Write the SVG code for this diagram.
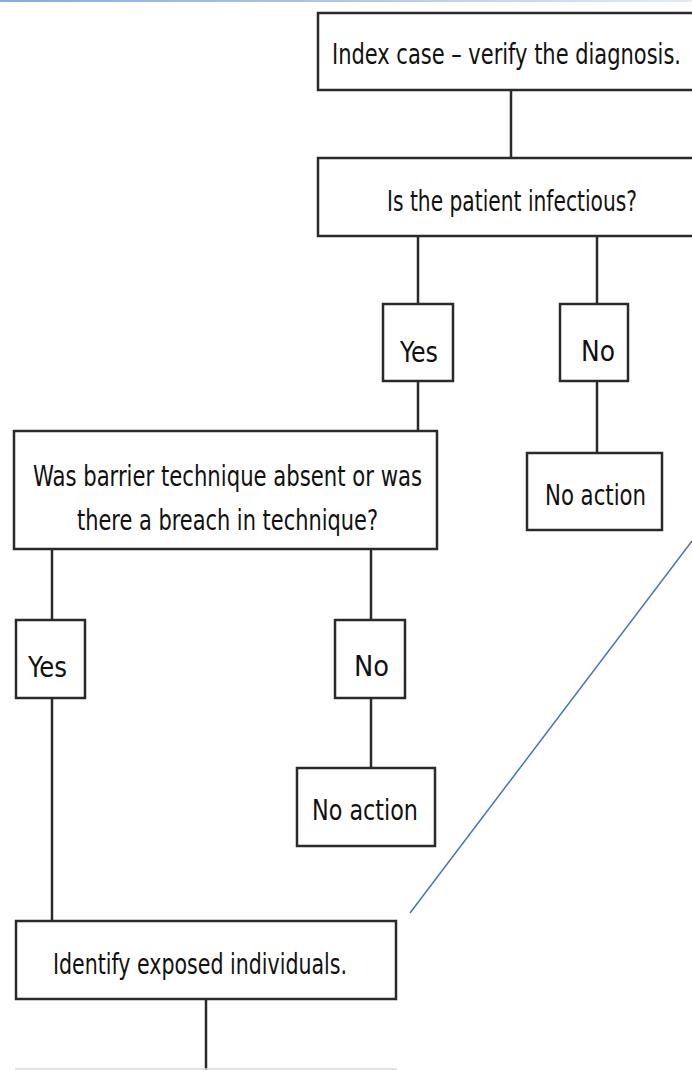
<svg xmlns="http://www.w3.org/2000/svg" width="692" height="1070" viewBox="0 0 692 1070">
  <defs>
    <linearGradient id="topbar" x1="0" y1="0" x2="1" y2="0">
      <stop offset="0" stop-color="#8ea9d9"/>
      <stop offset="0.5" stop-color="#b4c6e7"/>
      <stop offset="1" stop-color="#e4eaf5"/>
    </linearGradient>
    <style>
      .box { fill: #ffffff; stroke: #2a2a2a; stroke-width: 2.5; }
      .conn { stroke: #2a2a2a; stroke-width: 2.5; fill: none; }
      .t { font-family: "Liberation Sans Narrow", "DejaVu Sans Condensed", "Liberation Sans", sans-serif; font-size: 29px; fill: #111111; }
      .ts { font-size: 24px; }
    </style>
  </defs>
  <rect x="0" y="0" width="692" height="1070" fill="#ffffff"/>
  <rect x="0" y="0" width="692" height="2" fill="url(#topbar)"/>

  <g id="connectors">
    <line class="conn" x1="511" y1="90" x2="511" y2="158"/>
    <line class="conn" x1="418" y1="236" x2="418" y2="304"/>
    <line class="conn" x1="597" y1="236" x2="597" y2="304"/>
    <line class="conn" x1="418" y1="381" x2="418" y2="431"/>
    <line class="conn" x1="597" y1="381" x2="597" y2="453"/>
    <line class="conn" x1="52" y1="549" x2="52" y2="620"/>
    <line class="conn" x1="371" y1="549" x2="371" y2="620"/>
    <line class="conn" x1="371" y1="698" x2="371" y2="768"/>
    <line class="conn" x1="52" y1="698" x2="52" y2="921"/>
    <line class="conn" x1="206" y1="999" x2="206" y2="1070"/>
    <line x1="410" y1="913" x2="692" y2="541" stroke="#4a72be" stroke-width="1.5"/>
  </g>

  <g id="index-case">
    <path class="box" d="M692,13 H318 V90 H692"/>
    <text class="t ts" transform="translate(332,64) scale(1,1.2)" x="0" y="0" textLength="349" lengthAdjust="spacingAndGlyphs">Index case – verify the diagnosis.</text>
  </g>
  <g id="infectious">
    <path class="box" d="M692,158 H318 V236 H692"/>
    <text class="t ts" transform="translate(387,211) scale(1,1.2)" x="0" y="0" textLength="250" lengthAdjust="spacingAndGlyphs">Is the patient infectious?</text>
  </g>
  <g id="yes1">
    <rect class="box" x="383" y="304" width="70" height="77"/>
    <text class="t" x="400" y="362" textLength="38" lengthAdjust="spacingAndGlyphs">Yes</text>
  </g>
  <g id="no1">
    <rect class="box" x="560" y="304" width="68" height="77"/>
    <text class="t" x="581" y="361" textLength="34" lengthAdjust="spacingAndGlyphs">No</text>
  </g>
  <g id="noaction1">
    <rect class="box" x="527" y="453" width="135" height="77"/>
    <text class="t" x="545" y="505" textLength="101" lengthAdjust="spacingAndGlyphs">No action</text>
  </g>
  <g id="barrier">
    <rect class="box" x="14" y="431" width="423" height="118"/>
    <text class="t" x="33" y="486" textLength="389" lengthAdjust="spacingAndGlyphs">Was barrier technique absent or was</text>
    <text class="t" x="77" y="530" textLength="301" lengthAdjust="spacingAndGlyphs">there a breach in technique?</text>
  </g>
  <g id="yes2">
    <rect class="box" x="16" y="620" width="69" height="78"/>
    <text class="t" x="28" y="677" textLength="39" lengthAdjust="spacingAndGlyphs">Yes</text>
  </g>
  <g id="no2">
    <rect class="box" x="335" y="620" width="70" height="78"/>
    <text class="t" x="354" y="676" textLength="35" lengthAdjust="spacingAndGlyphs">No</text>
  </g>
  <g id="noaction2">
    <rect class="box" x="297" y="768" width="138" height="78"/>
    <text class="t" x="312" y="820" textLength="106" lengthAdjust="spacingAndGlyphs">No action</text>
  </g>
  <g id="identify">
    <rect class="box" x="16" y="921" width="380" height="78"/>
    <text class="t" x="53" y="974" textLength="294" lengthAdjust="spacingAndGlyphs">Identify exposed individuals.</text>
  </g>
  <line x1="15" y1="1069" x2="397" y2="1069" stroke="#d8d8d8" stroke-width="1.5"/>
</svg>
